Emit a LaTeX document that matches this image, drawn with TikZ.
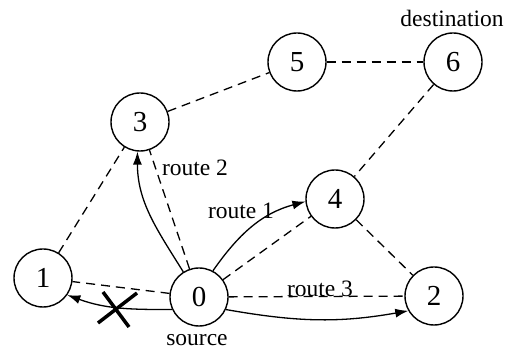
\documentclass[tikz,border=0pt]{standalone}
\usepackage{fontspec}
\setmainfont{Liberation Serif}
\usetikzlibrary{arrows.meta,positioning}

\begin{document}
\begin{tikzpicture}[x=1pt,y=1pt,
    router/.style={draw,circle,line width=1.4pt,minimum size=58pt,inner sep=0pt,font=\fontsize{29}{29}\selectfont},
    lbl/.style={font=\fontsize{23.5}{24}\selectfont,inner sep=0pt},
    link/.style={dashed,line width=1.3pt,dash pattern=on 9pt off 6pt},
    route/.style={line width=1.3pt,-{Latex[length=13pt,width=9pt]}}]
\useasboundingbox (0,0) rectangle (516,350);

\node[router] (n0) at (199,53) {0};
\node[router] (n1) at (43,72) {1};
\node[router] (n2) at (434,54) {2};
\node[router] (n3) at (140,228) {3};
\node[router] (n4) at (335,151) {4};
\node[router] (n5) at (297,288) {5};
\node[router] (n6) at (453,288) {6};

\node[lbl] (src) at (197,10) {source};
\node[lbl] (dst) at (452,332) {destination};

% links
\draw[link] (n1) -- (n3);
\draw[link] (n3) -- (n5);
\draw[link] (n5) -- (n6);
\draw[link] (n6) -- (n4);
\draw[link] (n4) -- (n2);
\draw[link] (n0) -- (n1);
\draw[link] (n0) -- (n3);
\draw[link] (n0) -- (n4);
\draw[link] (n0) -- (n2);

% routes
\draw[route] (n0.122) to[out=122,in=-90] (n3.-95);
\draw[route] (n0.62) to[out=55,in=195] (n4.185);
\draw[route] (n0.-25) to[out=-10,in=190] (n2.-150);
\draw[route] (n0.-155) to[out=180,in=-20] (n1.-35);

\node[lbl] (r2) at (195,182) {route 2};
\node[lbl] (r1) at (241,139) {route 1};
\node[lbl] (r3) at (320,61) {route 3};

% broken route
\draw[line width=3.5pt] (98,27) -- (137,57);
\draw[line width=3.5pt] (103,58) -- (129,23);
\end{tikzpicture}
\end{document}
